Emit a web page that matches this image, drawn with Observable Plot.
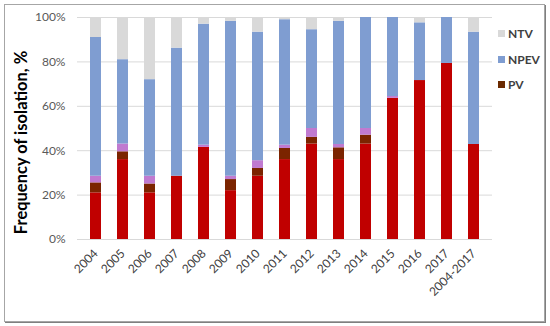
<!DOCTYPE html>
<html>
<head>
<meta charset="utf-8">
<script src="https://cdn.jsdelivr.net/npm/d3@7"></script>
<script src="https://cdn.jsdelivr.net/npm/@observablehq/plot@0.6"></script>
<style>
  body { margin: 0; background: #fff; }
  #wrap { position: relative; width: 550px; height: 326px; font-family: Lato, "Open Sans", sans-serif; }
  #frame { position: absolute; left: 4px; top: 4px; width: 539px; height: 316px; border: 1px solid #a6a6a6; box-shadow: 1px 1px 0 #7f7f7f; pointer-events: none; }
  #chart { position: absolute; left: 0; top: 0; }
  .leg { position: absolute; left: 498px; font-size: 12px; font-weight: bold; color: #404040; display: flex; align-items: center; }
  .leg span.sw { display: inline-block; width: 7px; height: 7px; margin-right: 3px; }
</style>
</head>
<body>
<div id="wrap">
  <div id="chart"></div>
  <div id="frame"></div>
</div>
<script>
const years = ["2004","2005","2006","2007","2008","2009","2010","2011","2012","2013","2014","2015","2016","2017","2004-2017"];
// PV (red part), PV (dark part), mixed segment, NPEV, NTV — percentages
const pvRed  = [21, 36, 21, 28.5, 41.5, 22, 28.5, 36, 43, 36, 43, 63.6, 71.6, 79.3, 42.8];
const pvDark = [4.5, 3.5, 4, 0, 0, 5, 3.5, 5, 3, 5.3, 4, 0, 0, 0, 0];
const mixed  = [3, 3.5, 3.5, 0, 1, 1.5, 3.5, 1.5, 4, 1.5, 3, 0.8, 0, 0, 0];
const npev   = [62.5, 38, 43.5, 57.7, 54.5, 69.8, 57.9, 56.5, 44.5, 55.5, 50, 35.6, 26, 20.7, 50.6];
const ntv    = [9, 19, 28, 13.8, 3, 1.7, 6.6, 1, 5.5, 1.7, 0, 0, 2.4, 0, 6.6];
const yTicks = [0, 20, 40, 60, 80, 100];

const seriesNames = ["PV", "PVd", "MIX", "NPEV", "NTV"];
const seriesColors = ["#c00000", "#7b2400", "#c07ad0", "#7f9dd1", "#d9d9d9"];
const seriesVals = [pvRed, pvDark, mixed, npev, ntv];

const rows = [];
years.forEach((yr, i) => {
  seriesNames.forEach((s, k) => rows.push({year: yr, series: s, value: seriesVals[k][i]}));
});

const chart = Plot.plot({
  width: 550,
  height: 326,
  marginLeft: 77,
  marginRight: 58,
  marginTop: 17,
  marginBottom: 87,
  style: {fontFamily: "Lato, 'Open Sans', sans-serif", background: "transparent", overflow: "visible"},
  x: {domain: years, paddingInner: 0.58, paddingOuter: 0.25, label: null},
  y: {domain: [0, 100], label: null},
  color: {domain: seriesNames, range: seriesColors},
  marks: [
    Plot.gridY(yTicks, {stroke: "#d9d9d9", strokeOpacity: 1}),
    Plot.barY(rows, Plot.stackY({order: null}, {x: "year", y: "value", fill: "series"})),
    Plot.axisY(yTicks, {tickSize: 0, tickPadding: 12, tickFormat: d => d + "%", fontSize: 12, fill: "#595959", label: null}),
    Plot.axisX({tickSize: 0, tickRotate: -45, tickPadding: 12, fontSize: 12, fill: "#404040", label: null}),
    Plot.text(["Frequency of isolation, %"], {frameAnchor: "left", textAnchor: "middle", dx: -56, dy: 14, rotate: -90, fontSize: 16.5, fontWeight: "bold", fill: "#000"})
  ]
});
document.getElementById("chart").appendChild(chart);

const legendItems = [["NTV", "#d9d9d9", 33], ["NPEV", "#7f9dd1", 59], ["PV", "#6b2a00", 84]];
legendItems.forEach(([name, col, cy]) => {
  const d = document.createElement("div");
  d.className = "leg";
  d.style.top = (cy - 8) + "px";
  d.style.height = "16px";
  d.innerHTML = `<span class="sw" style="background:${col}"></span>${name}`;
  document.getElementById("wrap").appendChild(d);
});
</script>
</body>
</html>
